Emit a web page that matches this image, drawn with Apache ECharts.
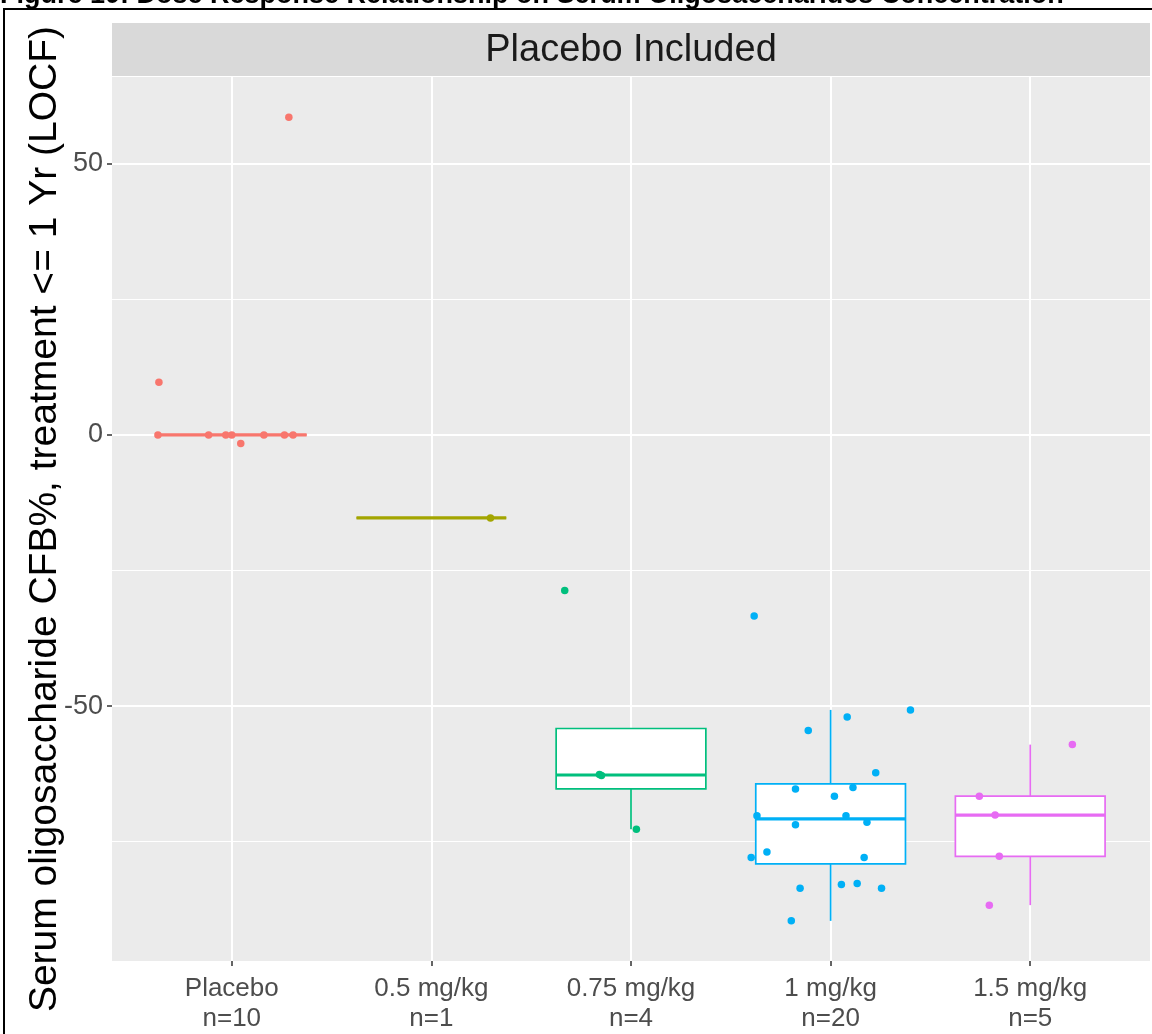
<!DOCTYPE html>
<html>
<head>
<meta charset="utf-8">
<script src="https://cdn.jsdelivr.net/npm/echarts@6/dist/echarts.min.js"></script>
<style>
html, body { margin: 0; padding: 0; background: #ffffff; }
#chart { width: 1152px; height: 1034px; }
</style>
</head>
<body>
<div id="chart"></div>
<script>
// Dose groups and their sizes
const categories = ['Placebo', '0.5 mg/kg', '0.75 mg/kg', '1 mg/kg', '1.5 mg/kg'];
const groupSizes = [10, 1, 4, 20, 5];
const groupColors = ['#F8766D', '#A3A500', '#00BF7D', '#00B0F6', '#E76BF3'];

// Percent change from baseline per subject, with the horizontal jitter offset of each dot
const placeboCfb    = [58.6, 9.7, 0, 0, 0, 0, 0, 0, 0, -1.6];
const placeboJitter = [0.286, -0.365, -0.370, -0.116, -0.030, 0.000, 0.161, 0.264, 0.307, 0.045];

const dose05Cfb    = [-15.3];
const dose05Jitter = [0.296];

const dose075Cfb    = [-28.7, -62.6, -62.8, -72.7];
const dose075Jitter = [-0.332, -0.158, -0.148, 0.027];

const dose1Cfb = [-33.4, -50.7, -52.0, -54.5, -62.3, -65.3, -65.0, -66.6, -70.2, -70.2,
                  -71.4, -71.9, -76.9, -77.9, -77.9, -83.6, -82.9, -82.7, -83.6, -89.6];
const dose1Jitter = [-0.383, 0.400, 0.083, -0.112, 0.226, -0.176, 0.112, 0.019, -0.369, 0.077,
                     0.182, -0.176, -0.319, -0.398, 0.168, -0.153, 0.054, 0.133, 0.255, -0.197];

const dose15Cfb    = [-57.1, -66.6, -70.1, -77.7, -86.7];
const dose15Jitter = [0.211, -0.255, -0.176, -0.155, -0.205];

const groupValues = [placeboCfb, dose05Cfb, dose075Cfb, dose1Cfb, dose15Cfb];
const groupJitter = [placeboJitter, dose05Jitter, dose075Jitter, dose1Jitter, dose15Jitter];

// Axis ticks
const yMajorTicks = [-50, 0, 50];
const yMinorTicks = [-75, -25, 25];
const xTicks = [0, 1, 2, 3, 4];

const FONT = '"Liberation Sans", Arial, Helvetica, sans-serif';

// Tukey box statistics (type-7 quantiles, 1.5 IQR whiskers)
function quantile(sorted, p) {
  const h = (sorted.length - 1) * p;
  const lo = Math.floor(h), hi = Math.ceil(h);
  return sorted[lo] + (h - lo) * (sorted[hi] - sorted[lo]);
}
function boxStats(values) {
  const s = values.slice().sort((a, b) => a - b);
  const q1 = quantile(s, 0.25), med = quantile(s, 0.5), q3 = quantile(s, 0.75);
  const iqr = q3 - q1;
  const inside = s.filter(v => v >= q1 - 1.5 * iqr && v <= q3 + 1.5 * iqr);
  return [q1, med, q3, Math.min(...inside), Math.max(...inside)];
}

const boxData = groupValues.map((vals, i) => [i].concat(boxStats(vals)));

const chart = echarts.init(document.getElementById('chart'), null, { renderer: 'canvas' });

const BOX_HALF = 0.375;

const series = [{
  type: 'custom',
  name: 'box',
  xAxisIndex: 0,
  yAxisIndex: 0,
  z: 3,
  silent: true,
  dimensions: ['idx', 'q1', 'median', 'q3', 'low', 'high'],
  encode: { x: 0, y: [1, 2, 3, 4, 5] },
  data: boxData,
  renderItem: function (params, api) {
    const i = api.value(0);
    const col = groupColors[i];
    const q1 = api.value(1), med = api.value(2), q3 = api.value(3);
    const low = api.value(4), high = api.value(5);
    const tl = api.coord([i - BOX_HALF, q3]);
    const br = api.coord([i + BOX_HALF, q1]);
    const ml = api.coord([i - BOX_HALF, med]);
    const mr = api.coord([i + BOX_HALF, med]);
    const pTop = api.coord([i, q3]);
    const pHigh = api.coord([i, high]);
    const pBot = api.coord([i, q1]);
    const pLow = api.coord([i, low]);
    return {
      type: 'group',
      children: [
        { type: 'line', shape: { x1: pTop[0], y1: pTop[1], x2: pHigh[0], y2: pHigh[1] },
          style: { stroke: col, lineWidth: 1.7 } },
        { type: 'line', shape: { x1: pBot[0], y1: pBot[1], x2: pLow[0], y2: pLow[1] },
          style: { stroke: col, lineWidth: 1.7 } },
        { type: 'rect', shape: { x: tl[0], y: tl[1], width: br[0] - tl[0], height: br[1] - tl[1] },
          style: { fill: '#ffffff', stroke: col, lineWidth: 1.7 } },
        { type: 'line', shape: { x1: ml[0], y1: ml[1], x2: mr[0], y2: mr[1] },
          style: { stroke: col, lineWidth: 3.2 } }
      ]
    };
  }
}];

groupValues.forEach(function (vals, i) {
  series.push({
    type: 'scatter',
    name: categories[i],
    xAxisIndex: 0,
    yAxisIndex: 0,
    z: 5,
    symbol: 'circle',
    symbolSize: 7.5,
    silent: true,
    itemStyle: { color: groupColors[i], opacity: 1 },
    data: vals.map((v, k) => [i + groupJitter[i][k], v])
  });
});

chart.setOption({
  animation: false,
  backgroundColor: '#ffffff',
  grid: {
    left: 112, top: 77, width: 1038, height: 884,
    show: true, backgroundColor: '#EBEBEB', borderWidth: 0, containLabel: false
  },
  xAxis: [{
    type: 'value',
    min: -0.6, max: 4.6,
    position: 'bottom',
    axisLine: { show: false, onZero: false },
    axisTick: { show: true, customValues: xTicks, length: 5, lineStyle: { color: '#333333', width: 1.5 } },
    axisLabel: {
      customValues: xTicks,
      margin: 13,
      fontFamily: FONT, fontSize: 26, lineHeight: 30, color: '#4D4D4D',
      formatter: function (v) {
        const i = Math.round(v);
        return categories[i] + '\nn=' + groupSizes[i];
      }
    },
    splitLine: { show: true, lineStyle: { color: '#ffffff', width: 2 } }
  }],
  yAxis: [{
    type: 'value',
    min: -97, max: 66,
    position: 'left',
    axisLine: { show: false, onZero: false },
    axisTick: { show: true, customValues: yMajorTicks, length: 5, lineStyle: { color: '#333333', width: 1.5 } },
    axisLabel: { customValues: yMajorTicks, margin: 9, fontFamily: FONT, fontSize: 27, color: '#4D4D4D' },
    splitLine: { show: true, lineStyle: { color: '#ffffff', width: 2 } },
    name: 'Serum oligosaccharide CFB%, treatment <= 1 Yr (LOCF)',
    nameLocation: 'middle',
    nameMoveOverlap: false,
    nameGap: 47,
    nameTextStyle: { fontFamily: FONT, fontSize: 39, color: '#000000' }
  }, {
    type: 'value',
    min: -97, max: 66,
    position: 'left',
    axisLine: { show: false, onZero: false },
    axisTick: { show: false, customValues: yMinorTicks },
    axisLabel: { show: false, customValues: yMinorTicks },
    splitLine: { show: true, lineStyle: { color: '#ffffff', width: 1.2 } }
  }],
  graphic: [
    // figure caption, clipped by the top of the page
    { type: 'text', x: 0, y: 9, z: 10,
      style: { text: 'Figure 10: Dose Response Relationship on Serum Oligosaccharides Concentration',
               font: 'bold 27px ' + FONT, fill: '#000000', textVerticalAlign: 'bottom', textAlign: 'left' } },
    // frame around the figure
    { type: 'line', z: 10, shape: { x1: 3, y1: 9, x2: 1152, y2: 9 }, style: { stroke: '#000000', lineWidth: 2 } },
    { type: 'line', z: 10, shape: { x1: 4, y1: 9, x2: 4, y2: 1034 }, style: { stroke: '#000000', lineWidth: 2 } },
    // facet strip
    { type: 'rect', z: 1, shape: { x: 112, y: 23, width: 1038, height: 53 }, style: { fill: '#D9D9D9' } },
    { type: 'text', z: 2, x: 631, y: 51,
      style: { text: 'Placebo Included', font: '38px ' + FONT, fill: '#1A1A1A',
               textAlign: 'center', textVerticalAlign: 'middle' } }
  ],
  series: series
});
</script>
</body>
</html>
